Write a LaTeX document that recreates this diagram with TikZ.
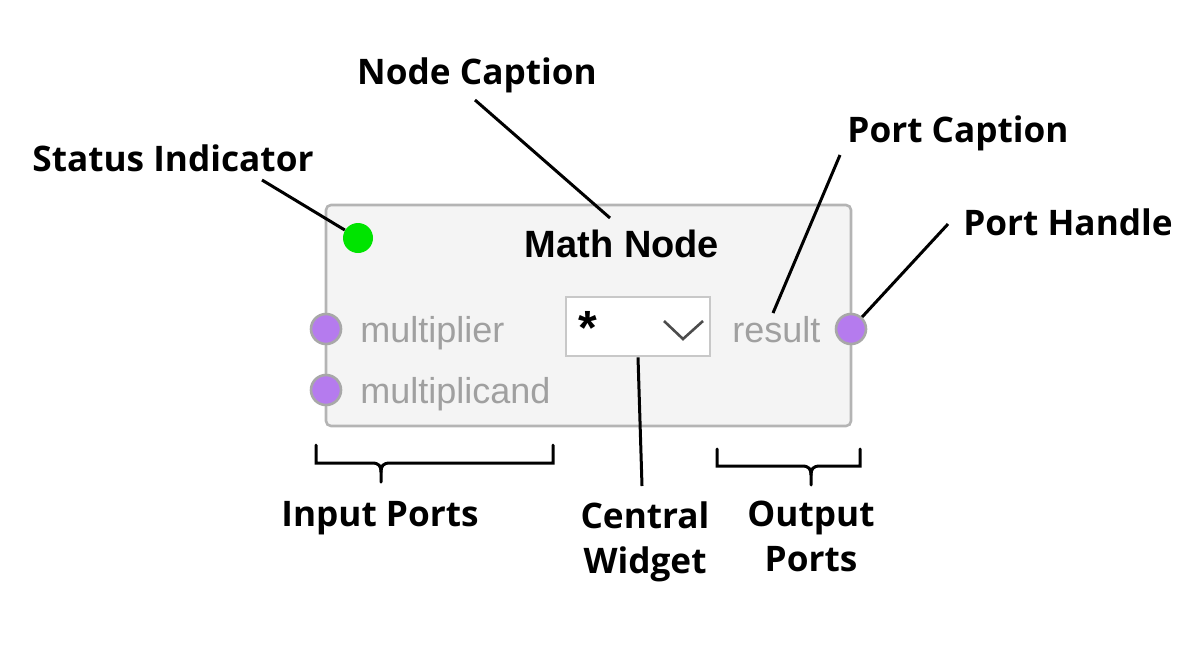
\documentclass[tikz,border=0pt]{standalone}
\usepackage{fontspec}
\setmainfont{Open Sans}
\newfontfamily\uifont{Liberation Sans}
\definecolor{nodefill}{HTML}{F4F4F4}
\definecolor{nodeborder}{HTML}{B4B4B4}
\definecolor{handlefill}{HTML}{B57BEE}
\definecolor{handleborder}{HTML}{A8A8A8}
\definecolor{statusgreen}{HTML}{00E400}
\definecolor{porttext}{HTML}{A0A0A0}
\definecolor{widgetborder}{HTML}{C8C8C8}

\begin{document}
\begin{tikzpicture}[x=0.5pt,y=-0.5pt,
  lbl/.style={font=\bfseries\fontsize{17.6}{22.5}\selectfont,align=center,inner sep=0pt},
  porttext/.style={font=\uifont\fontsize{18}{20}\selectfont,text=porttext,anchor=base west,inner sep=0pt},
  handle/.style={circle,draw=handleborder,fill=handlefill,line width=1.3pt,minimum size=15pt,inner sep=0pt},
  pointer/.style={line width=1.5pt},
  bracket/.style={line width=1.5pt,line cap=round}]
\useasboundingbox (0,0) rectangle (1202,649);

% the node itself
\node[draw=nodeborder,fill=nodefill,line width=1.3pt,rounded corners=2.5pt,
  minimum width=262.5pt,minimum height=110.5pt] (mathnode) at (588.5,315.5) {};
\node[circle,fill=statusgreen,minimum size=15pt,inner sep=0pt] (status) at (358,238) {};
\node[font=\uifont\bfseries\fontsize{19}{20}\selectfont,anchor=base,inner sep=0pt] (caption) at (622,257) {Math Node};

\node[handle] (inA) at (326,329) {};
\node[handle] (inB) at (326,390) {};
\node[handle] (out) at (851,329) {};
\node[porttext] (multiplier) at (360,342) {multiplier};
\node[porttext] (multiplicand) at (360,403) {multiplicand};
\node[porttext] (result) at (732,342) {result};

\node[draw=widgetborder,fill=white,line width=1.3pt,minimum width=72pt,minimum height=29.5pt,inner sep=0pt] (widget) at (638,326.5) {};
\node[font=\uifont\bfseries\fontsize{24}{24}\selectfont,inner sep=0pt] (star) at (588,328) {*};
\draw[line width=1.3pt,black!70] (664,321) -- (683,339) -- (703,321);

% labels
\node[lbl] (statuslbl) at (173,158) {Status Indicator};
\node[lbl] (captionlbl) at (477,75) {Node Caption};
\node[lbl] (portcaplbl) at (958,133) {Port Caption};
\node[lbl] (porthandlelbl) at (1068,222) {Port Handle};
\node[lbl] (inputlbl) at (380,518) {Input Ports};
\node[lbl] (widgetlbl) at (645,542) {Central\\Widget};
\node[lbl] (outputlbl) at (811,536) {Output\\Ports};

% pointers
\coordinate (statusfrom) at (262,180);
\coordinate (captionfrom) at (475,100);
\coordinate (captionto) at (610,218);
\coordinate (portcapfrom) at (840,155);
\coordinate (portcapto) at (773,313);
\coordinate (porthandlefrom) at (948,224);
\coordinate (widgetto) at (642,486);
\draw[pointer] (statusfrom) -- (status);
\draw[pointer] (captionfrom) -- (captionto);
\draw[pointer] (portcapfrom) -- (portcapto);
\draw[pointer] (porthandlefrom) -- (out);
\draw[pointer] (widget.south) -- (widgetto);

% brackets
\draw[bracket] (316,445) -- (316,463) -- (372,463) .. controls (379,463) and (381,466) .. (381,472) -- (381,482);
\draw[bracket] (381,472) .. controls (381,466) and (383,463) .. (390,463) -- (553,463) -- (553,445);
\draw[bracket] (717,449) -- (717,466) -- (802,466) .. controls (809,466) and (811,469) .. (811,475) -- (811,485);
\draw[bracket] (811,475) .. controls (811,469) and (813,466) .. (820,466) -- (860,466) -- (860,449);

\end{tikzpicture}
\end{document}
